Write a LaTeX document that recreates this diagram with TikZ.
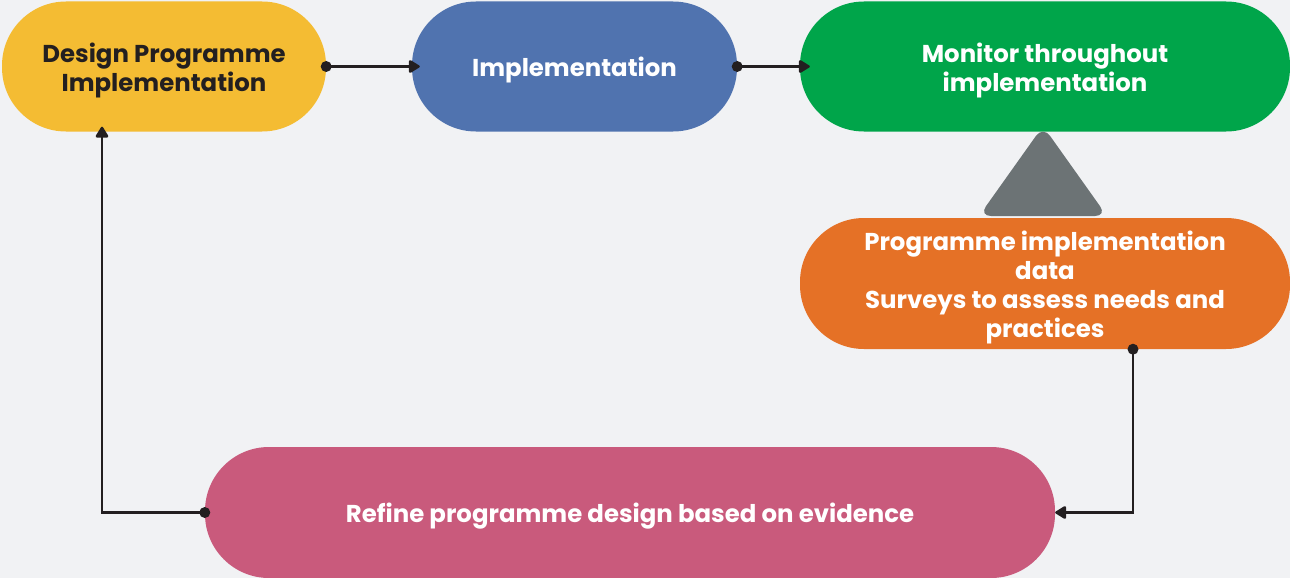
\documentclass[tikz,border=0pt]{standalone}
\usepackage{fontspec}
\setmainfont{Poppins}
\usetikzlibrary{arrows.meta}
\definecolor{bg}{HTML}{F1F2F4}
\definecolor{cyel}{HTML}{F4BC33}
\definecolor{cblu}{HTML}{5073AF}
\definecolor{cgrn}{HTML}{00A54A}
\definecolor{cgry}{HTML}{6C7375}
\definecolor{corg}{HTML}{E57126}
\definecolor{cpnk}{HTML}{C95A7C}
\definecolor{ink}{HTML}{231F20}
\newcommand{\tpad}{\rule{0pt}{27pt}}
\tikzset{
  pill/.style={draw=none, rounded corners=64pt, minimum height=130pt, align=center,
    font=\fontsize{24.4}{29}\selectfont\bfseries, text=white, inner sep=0pt},
  conn/.style={draw=ink, line width=2.4pt, -{Triangle[length=12pt,width=14pt,round]}},
  dot/.style={fill=ink}
}
\begin{document}
\begin{tikzpicture}[x=1pt,y=-1pt]
\useasboundingbox[fill=bg] (0,0) rectangle (1290,578);
\node[pill, fill=cyel, text=ink, minimum width=324pt] (des) at (164,66.5) {\tpad Design Programme\\Implementation};
\node[pill, fill=cblu, minimum width=325pt] (imp) at (574.5,66.5) {\tpad Implementation};
\node[pill, fill=cgrn, minimum width=490pt] (mon) at (1045,66.5) {\tpad Monitor throughout\\implementation};
\node[pill, fill=corg, minimum width=490pt, minimum height=131pt] (dat) at (1045,283.5) {\tpad Programme implementation\\data\\Surveys to assess needs and\\practices};
\node[pill, fill=cpnk, minimum width=850pt, minimum height=131pt] (ref) at (630,512.5) {\tpad Refine programme design based on evidence};
\fill[cgry, rounded corners=12pt] (979,216) -- (1043,126) -- (1107,216) -- cycle;
\coordinate (dstart) at ([xshift=88pt]dat.south);
\draw[conn] (des.east) -- ([xshift=8pt]imp.west);
\draw[conn] (imp.east) -- ([xshift=10pt]mon.west);
\draw[conn] (dstart) |- (ref.east);
\draw[conn] (ref.west) -| ([xshift=-62pt,yshift=5pt]des.south);
\fill[dot] (des.east) circle (5.5pt);
\fill[dot] (imp.east) circle (5.5pt);
\fill[dot] (dstart) circle (5.5pt);
\fill[dot] (ref.west) circle (5.5pt);
\end{tikzpicture}
\end{document}
